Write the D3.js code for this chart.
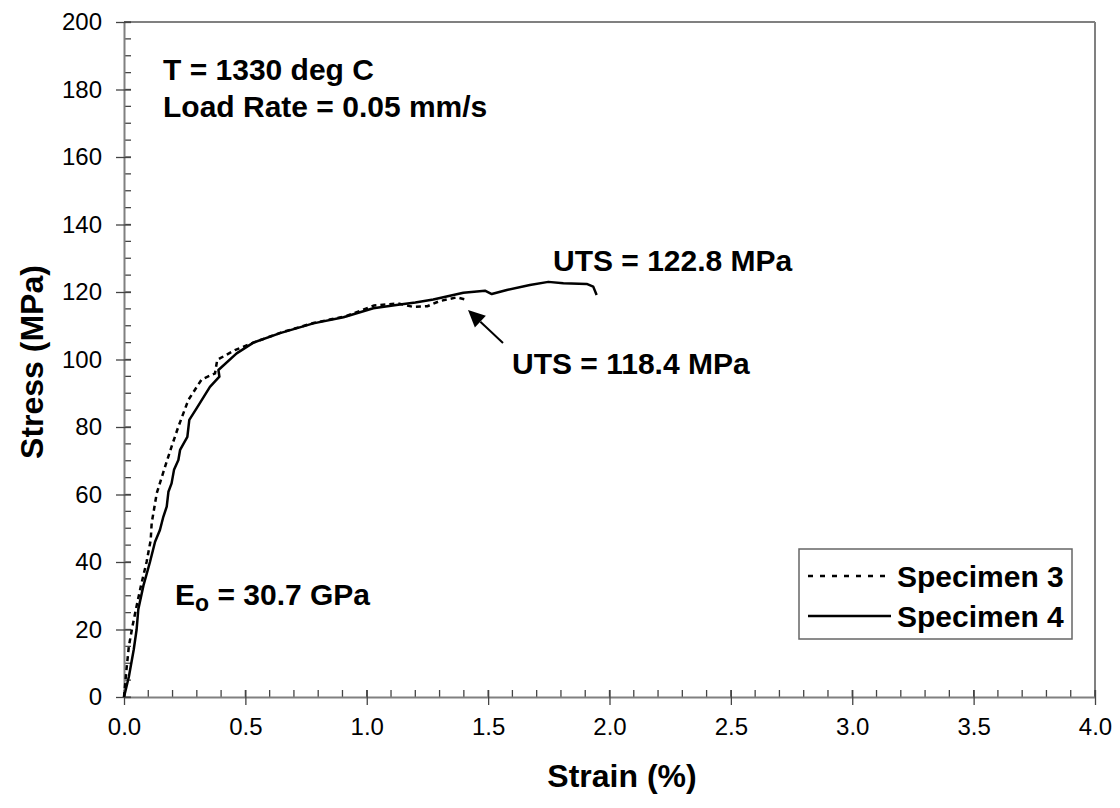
<!DOCTYPE html>
<html>
<head>
<meta charset="utf-8">
<script src="https://cdn.jsdelivr.net/npm/d3@7"></script>
<style>
  html, body { margin: 0; padding: 0; background: #fff; }
  svg { display: block; font-family: "Liberation Sans", Arial, sans-serif; }
</style>
</head>
<body>
<svg id="chart" width="1120" height="808"></svg>
<script>
// ---- data ----
const spec3Strain = [0, 0.01, 0.02, 0.035, 0.052, 0.07, 0.093, 0.11, 0.114, 0.135, 0.169, 0.196, 0.224, 0.265, 0.32, 0.375, 0.384, 0.457, 0.533, 0.643, 0.78, 0.917, 1.03, 1.08, 1.13, 1.19, 1.25, 1.3, 1.37, 1.405];
const spec3Stress = [0, 8, 15, 21, 27, 33, 40, 46.5, 51.5, 60.4, 68.2, 74.2, 80.1, 88.0, 94.1, 95.9, 99.9, 102.8, 105.0, 107.9, 110.8, 112.9, 116.0, 116.3, 116.6, 115.6, 115.8, 117.3, 118.4, 117.8];
const spec4Strain = [0, 0.02, 0.04, 0.052, 0.059, 0.08, 0.107, 0.128, 0.148, 0.162, 0.176, 0.183, 0.196, 0.206, 0.224, 0.231, 0.261, 0.269, 0.299, 0.354, 0.393, 0.389, 0.464, 0.533, 0.643, 0.78, 0.904, 1.027, 1.137, 1.2, 1.274, 1.398, 1.487, 1.515, 1.577, 1.672, 1.748, 1.81, 1.906, 1.933, 1.947];
const spec4Stress = [0, 6, 14, 20, 26, 33, 40, 46, 49.5, 53.4, 56.4, 60.8, 63.3, 67.3, 70.2, 73.2, 77.1, 82.1, 85.5, 91.9, 94.9, 96.9, 101.8, 105.0, 107.8, 110.7, 112.5, 115.2, 116.3, 116.9, 117.8, 119.8, 120.4, 119.4, 120.6, 122.1, 123.0, 122.6, 122.4, 121.6, 119.1];
const xTicks = [0, 0.5, 1.0, 1.5, 2.0, 2.5, 3.0, 3.5, 4.0];
const yTicks = [0, 20, 40, 60, 80, 100, 120, 140, 160, 180, 200];
const seriesNames = ["Specimen 3", "Specimen 4"];

// ---- layout ----
const svg = d3.select("#chart");
const L = 124, R = 1095, T = 22, B = 697;
const x = d3.scaleLinear().domain([0, 4]).range([L, R]);
const y = d3.scaleLinear().domain([0, 200]).range([B, T]);
const FONT = '"Liberation Sans", Arial, sans-serif';
const axisColor = "#808080";
const tickColor = "#444";
const ANN = 30, TITLE = 32, TICK = 24;

// frame top/right
svg.append("line").attr("x1", L).attr("x2", R).attr("y1", T).attr("y2", T).attr("stroke", axisColor).attr("stroke-width", 2);
svg.append("line").attr("x1", R).attr("x2", R).attr("y1", T).attr("y2", B).attr("stroke", axisColor).attr("stroke-width", 2);

// minor ticks
const xMinor = d3.range(0, 41).map(d => d / 10);
const yMinor = d3.range(0, 41).map(d => d * 5);
svg.append("g").selectAll("line").data(xMinor).join("line")
  .attr("x1", d => x(d)).attr("x2", d => x(d)).attr("y1", B).attr("y2", B - 7)
  .attr("stroke", tickColor).attr("stroke-width", 1.3);
svg.append("g").selectAll("line").data(yMinor).join("line")
  .attr("x1", L).attr("x2", L + 7).attr("y1", d => y(d)).attr("y2", d => y(d))
  .attr("stroke", tickColor).attr("stroke-width", 1.3);

// axes
const xAxis = d3.axisBottom(x).tickValues(xTicks).tickFormat(d3.format(".1f")).tickSizeInner(8).tickSizeOuter(0).tickPadding(13);
const gx = svg.append("g").attr("transform", `translate(0,${B})`).call(xAxis);
gx.select(".domain").attr("stroke", axisColor).attr("stroke-width", 2);
gx.selectAll(".tick line").attr("y1", -7).attr("stroke", tickColor).attr("stroke-width", 1.3);
gx.selectAll(".tick text").attr("font-family", FONT).attr("font-size", TICK).attr("fill", "#000");

const yAxis = d3.axisLeft(y).tickValues(yTicks).tickFormat(d3.format("d")).tickSizeInner(8).tickSizeOuter(0).tickPadding(14);
const gy = svg.append("g").attr("transform", `translate(${L},0)`).call(yAxis);
gy.select(".domain").attr("stroke", axisColor).attr("stroke-width", 2);
gy.selectAll(".tick line").attr("x2", 7).attr("x1", -8).attr("stroke", tickColor).attr("stroke-width", 1.3);
gy.selectAll(".tick text").attr("font-family", FONT).attr("font-size", TICK).attr("fill", "#000");

// axis titles
svg.append("text").attr("x", 622).attr("y", 787).attr("text-anchor", "middle")
  .attr("font-size", TITLE).attr("font-weight", "bold").text("Strain (%)");
svg.append("text").attr("transform", `translate(43,362) rotate(-90)`).attr("text-anchor", "middle")
  .attr("font-size", TITLE).attr("font-weight", "bold").text("Stress (MPa)");

// curves
const line = d3.line().x(d => x(d[0])).y(d => y(d[1]));
const s3 = spec3Strain.map((v, i) => [v, spec3Stress[i]]);
const s4 = spec4Strain.map((v, i) => [v, spec4Stress[i]]);
svg.append("path").datum(s4).attr("d", line).attr("fill", "none").attr("stroke", "#000").attr("stroke-width", 2.5).attr("stroke-linejoin", "round");
svg.append("path").datum(s3).attr("d", line).attr("fill", "none").attr("stroke", "#000").attr("stroke-width", 2.5).attr("stroke-dasharray", "5,4");

// annotations
const ann = svg.append("g").attr("font-size", ANN).attr("font-weight", "bold").attr("fill", "#000");
ann.append("text").attr("x", 163).attr("y", 80).text("T = 1330 deg C");
ann.append("text").attr("x", 163).attr("y", 117).text("Load Rate = 0.05 mm/s");
ann.append("text").attr("x", 553).attr("y", 271).text("UTS = 122.8 MPa");
ann.append("text").attr("x", 512).attr("y", 374).text("UTS = 118.4 MPa");
const eo = ann.append("text").attr("x", 175).attr("y", 605);
eo.append("tspan").text("E");
eo.append("tspan").attr("font-size", 23).attr("dy", 6).text("o");
eo.append("tspan").attr("dy", -6).text(" = 30.7 GPa");

// arrow
const tip = [468, 310], tail = [503, 343];
const ang = Math.atan2(tail[1] - tip[1], tail[0] - tip[0]);
const hl = 17, hw = 8;
const bx = tip[0] + hl * Math.cos(ang), by = tip[1] + hl * Math.sin(ang);
svg.append("line").attr("x1", tail[0]).attr("y1", tail[1]).attr("x2", bx).attr("y2", by).attr("stroke", "#000").attr("stroke-width", 2);
svg.append("path").attr("d", `M${tip[0]},${tip[1]} L${bx + hw * Math.sin(ang)},${by - hw * Math.cos(ang)} L${bx - hw * Math.sin(ang)},${by + hw * Math.cos(ang)} Z`).attr("fill", "#000");

// legend
const lg = svg.append("g");
lg.append("rect").attr("x", 799).attr("y", 549).attr("width", 273).attr("height", 90)
  .attr("fill", "#fff").attr("stroke", "#666").attr("stroke-width", 1.5);
const rows = [{ name: seriesNames[0], dash: "5,7", ly: 576, ty: 587 }, { name: seriesNames[1], dash: null, ly: 616, ty: 627 }];
rows.forEach(r => {
  lg.append("line").attr("x1", 808).attr("x2", 891).attr("y1", r.ly).attr("y2", r.ly)
    .attr("stroke", "#000").attr("stroke-width", 2.5).attr("stroke-dasharray", r.dash);
  lg.append("text").attr("x", 897).attr("y", r.ty).attr("font-size", ANN).attr("font-weight", "bold").text(r.name);
});
</script>
</body>
</html>
